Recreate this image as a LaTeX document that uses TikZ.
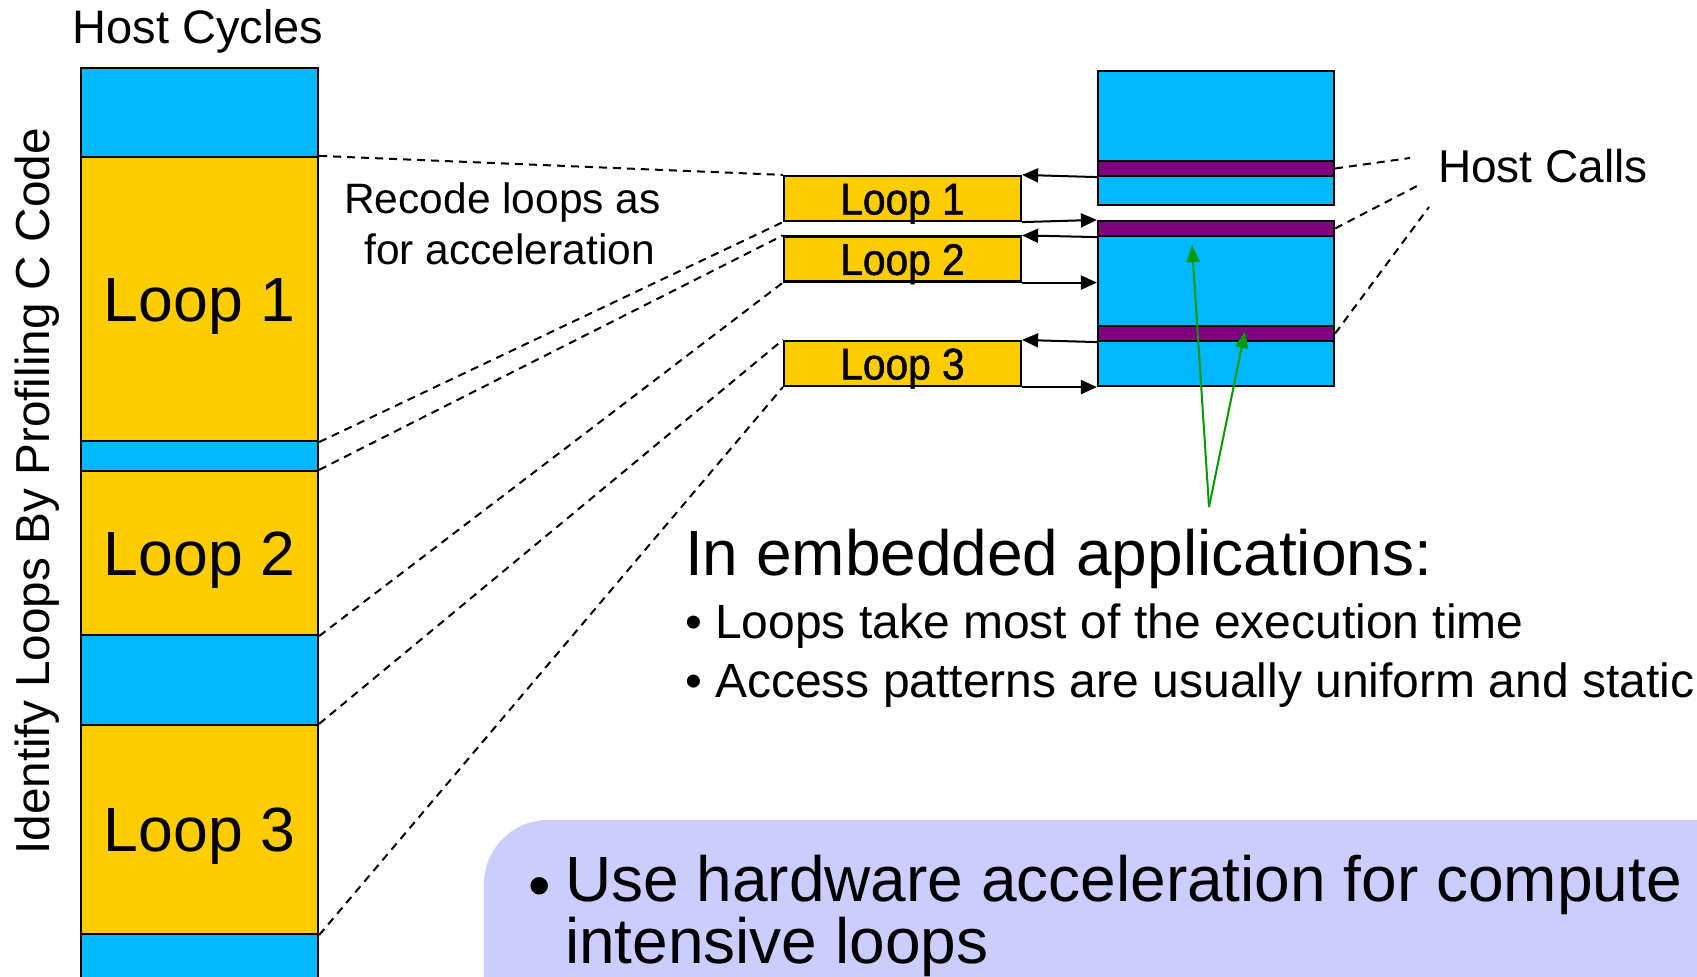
\documentclass[tikz,border=0pt]{standalone}
\usepackage{fontspec}
\setmainfont{Liberation Sans}
\newfontfamily\inkfont{Liberation Sans}[FakeBold=1.2,FakeStretch=0.92]
\usetikzlibrary{arrows.meta}
\definecolor{hostblue}{RGB}{0,184,255}
\definecolor{loopyellow}{RGB}{255,204,0}
\definecolor{callpurple}{RGB}{128,0,128}
\definecolor{hintgreen}{RGB}{0,153,0}
\definecolor{notebg}{RGB}{204,204,255}
\newcommand{\txtsize}[1]{\fontsize{#1}{#1}\selectfont}

\begin{document}
\begin{tikzpicture}[x=0.5pt,y=-0.5pt,line width=1pt,
  txt/.style={inner sep=0pt},
  seg/.style={draw,line width=1.1pt,minimum width=118.5pt,inner sep=0pt,
    text depth=0pt,font=\txtsize{31.25pt}},
  bseg/.style={seg,fill=hostblue,text height=0pt},
  lseg/.style={seg,fill=loopyellow,text height=22.4pt},
  lbox/.style={draw,line width=1.1pt,fill=loopyellow,minimum width=118.5pt,
    minimum height=22.5pt,inner sep=0pt,text height=15.9pt,text depth=0pt,
    font=\inkfont\txtsize{22.1pt}},
  hbox/.style={draw,line width=1.1pt,fill=hostblue,minimum width=118pt,inner sep=0pt},
  call/.style={draw,line width=1.1pt,fill=callpurple,minimum width=118pt,
    minimum height=7.5pt,inner sep=0pt},
  guide/.style={dashed,dash pattern=on 4pt off 3pt,line width=1pt},
  flow/.style={-{Triangle[length=8pt,width=7pt]},line width=1pt},
  hint/.style={hintgreen,line width=1pt,-{Triangle[length=8.5pt,width=6.5pt]}}]
  \useasboundingbox (0,0) rectangle (1697,977);
  \clip (0,0) rectangle (1697,977);
  \fill[notebg,rounded corners=32pt] (484,820) rectangle (1760,1040);

  \node[txt,anchor=base,font=\txtsize{23.5pt}] (cyc) at (198,44) {Host Cycles};
  \node[txt,rotate=90,text height=17.1pt,text depth=0pt,font=\txtsize{23.85pt}]
    (prof) at (32.5,491.5) {Identify Loops By Profiling C Code};

  \foreach \nm/\a/\b/\st/\lab in {b0/68/157/bseg/{},l1/157/441/lseg/Loop 1,
      b1/441/471/bseg/{},l2/471/635/lseg/Loop 2,b2/635/725/bseg/{},
      l3/725/934/lseg/Loop 3,b3/934/990/bseg/{}}
    \node[\st,minimum height={(\b-\a)*0.5pt}] (\nm) at (199.5,{(\a+\b)/2}) {\lab};

  \foreach \nm/\y/\lab in {lp1/198.5/Loop 1,lp2/259/Loop 2,lp3/363.5/Loop 3}
    \node[lbox] (\nm) at (902.5,\y) {\lab};

  \node[hbox,minimum height=67pt] (hs1) at (1216,138) {};
  \node[hbox,minimum height=82.5pt] (hs2) at (1216,303.5) {};
  \foreach \nm/\y in {hc1/168.5,hc2/228.5,hc3/333.5}
    \node[call] (\nm) at (1216,\y) {};

  \draw[flow] (hc1.south west) -- (lp1.north east);
  \draw[flow] (lp1.south east) -- (hs2.north west);
  \draw[flow] (hc2.south west) -- (lp2.north east);
  \draw[flow] (lp2.south east) -- (lp2.south east -| hs2.west);
  \draw[flow] (hc3.south west) -- (lp3.north east);
  \draw[flow] (lp3.south east) -- (hs2.south west);

  \foreach \s/\t in {l1/lp1,l2/lp2,l3/lp3} {
    \draw[guide] (\s.north east) -- (\t.north west);
    \draw[guide] (\s.south east) -- (\t.south west);
  }

  \node[txt,anchor=base,font=\txtsize{21.25pt}] (rc1) at (502.5,214) {Recode loops as};
  \node[txt,anchor=base,font=\txtsize{21.25pt}] (rc2) at (509.5,265) {for acceleration};

  \node[txt,anchor=base west,font=\txtsize{23pt}] (calls) at (1437,183) {Host Calls};
  \coordinate (k1) at (1410,158);
  \coordinate (k2) at (1417,186);
  \coordinate (k3) at (1429,207);
  \draw[guide] (hc1.east) -- (k1);
  \draw[guide] (hc2.east) -- (k2);
  \draw[guide] (hc3.east) -- (k3);

  \coordinate (apx) at (1209,507);
  \coordinate (t1) at (1192,245);
  \coordinate (t2) at (1245,331);
  \draw[hint] (apx) -- (t1);
  \draw[hint] (apx) -- (t2);

  \node[txt,anchor=base west,font=\txtsize{32pt}] (emb) at (684,576) {In embedded applications:};
  \node[txt,anchor=base west,font=\txtsize{24pt}] (pt1) at (684,639)
    {• Loops take most of the execution time};
  \node[txt,anchor=base west,font=\txtsize{24pt}] (pt2) at (684,698)
    {• Access patterns are usually uniform and static};

  \node[txt,anchor=base west,font=\txtsize{32pt}] (dot) at (527,907) {•};
  \node[txt,anchor=base west,align=left,font=\fontsize{32pt}{28pt}\selectfont]
    (use) at (564,963) {Use hardware acceleration for compute\\intensive loops};
\end{tikzpicture}
\end{document}
